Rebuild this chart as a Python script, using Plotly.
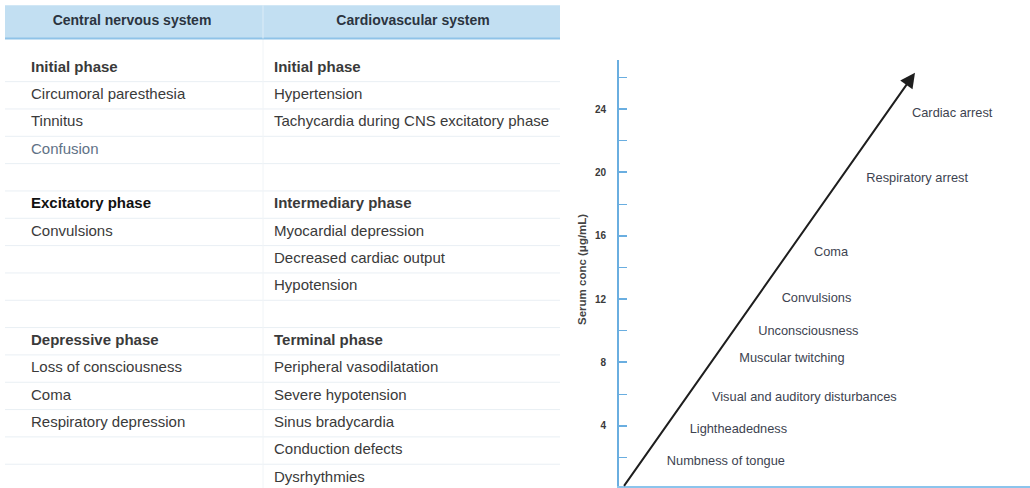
import plotly.graph_objects as go

# ---------------- Table data ----------------
cns_header = "Central nervous system"
cvs_header = "Cardiovascular system"

cns_items = ["Initial phase", "Circumoral paresthesia", "Tinnitus", "Confusion",
             "Excitatory phase", "Convulsions",
             "Depressive phase", "Loss of consciousness", "Coma", "Respiratory depression"]
cns_rows = [0, 1, 2, 3, 5, 6, 10, 11, 12, 13]

cvs_items = ["Initial phase", "Hypertension", "Tachycardia during CNS excitatory phase",
             "Intermediary phase", "Myocardial depression", "Decreased cardiac output", "Hypotension",
             "Terminal phase", "Peripheral vasodilatation", "Severe hypotension", "Sinus bradycardia",
             "Conduction defects", "Dysrhythmies"]
cvs_rows = [0, 1, 2, 5, 6, 7, 8, 10, 11, 12, 13, 14, 15]

phase_titles = ["Initial phase", "Excitatory phase", "Depressive phase",
                "Intermediary phase", "Terminal phase"]

# ---------------- Chart data ----------------
symptoms = ["Numbness of tongue", "Lightheadedness", "Visual and auditory disturbances",
            "Muscular twitching", "Unconsciousness", "Convulsions", "Coma",
            "Respiratory arrest", "Cardiac arrest"]
serum_conc = [1.7, 3.75, 5.75, 8.2, 9.9, 12.0, 14.9, 19.6, 23.7]
conc_ticks = [4, 8, 12, 16, 20, 24]
arrow_conc = [0.1, 26.3]
y_title = "Serum conc (μg/mL)"

# ---------------- Styling / layout constants ----------------
W, H = 1030, 488
TXT = "#3a3a3a"
BLUE = "#6aaee0"
FONT = "Liberation Sans, Arial, sans-serif"

arrow_x = [4, 296]          # horizontal extent of the arrow (px units of chart x axis)
label_gap = 26


def arrow_x_at(c):
    return arrow_x[0] + (arrow_x[1] - arrow_x[0]) * (c - arrow_conc[0]) / (arrow_conc[1] - arrow_conc[0])


def fmt(t):
    return f"<b>{t}</b>" if t in phase_titles else t


def col(t):
    if t == "Confusion":
        return "#5f7286"
    if t == "Excitatory phase":
        return "#111111"
    return TXT


fig = go.Figure()

# Table text (x2/y2: pixel columns, row index)
fig.add_trace(go.Scatter(
    x=[31] * len(cns_items), y=cns_rows, text=[fmt(t) for t in cns_items],
    mode="text", textposition="middle right",
    textfont=dict(family=FONT, size=15, color=[col(t) for t in cns_items]),
    xaxis="x2", yaxis="y2", hoverinfo="skip", showlegend=False))
fig.add_trace(go.Scatter(
    x=[274] * len(cvs_items), y=cvs_rows, text=[fmt(t) for t in cvs_items],
    mode="text", textposition="middle right",
    textfont=dict(family=FONT, size=15, color=[col(t) for t in cvs_items]),
    xaxis="x2", yaxis="y2", hoverinfo="skip", showlegend=False))
fig.add_trace(go.Scatter(
    x=[132, 413], y=[-1.69, -1.69], text=[f"<b>{cns_header}</b>", f"<b>{cvs_header}</b>"],
    mode="text", textposition="middle center",
    textfont=dict(family=FONT, size=14, color="#2b3440"),
    xaxis="x2", yaxis="y2", hoverinfo="skip", showlegend=False))

# Chart labels
fig.add_trace(go.Scatter(
    x=[arrow_x_at(c) + label_gap for c in serum_conc], y=serum_conc, text=symptoms,
    mode="text", textposition="middle right",
    textfont=dict(family=FONT, size=12.8, color="#3d4350"),
    xaxis="x", yaxis="y", hoverinfo="skip", showlegend=False))

shapes = []
# header band
shapes.append(dict(type="rect", xref="x2", yref="y2", x0=5, x1=560, y0=-2.3, y1=-1.08,
                   fillcolor="#c2dff2", line=dict(width=0), layer="below"))
shapes.append(dict(type="line", xref="x2", yref="y2", x0=5, x1=560, y0=-1.08, y1=-1.08,
                   line=dict(color="#8fc3e8", width=2)))
shapes.append(dict(type="line", xref="x2", yref="y2", x0=263, x1=263, y0=-2.3, y1=-1.08,
                   line=dict(color="#dcecf7", width=1)))
# faint row separators
for i in range(15):
    shapes.append(dict(type="line", xref="x2", yref="y2", x0=5, x1=560, y0=i + 0.5, y1=i + 0.5,
                       line=dict(color="#e9eff4", width=1), layer="below"))
shapes.append(dict(type="line", xref="x2", yref="y2", x0=263, x1=263, y0=-1.08, y1=15.4,
                   line=dict(color="#f0f4f7", width=1), layer="below"))

annotations = [
    dict(xref="x", yref="y", axref="x", ayref="y", x=arrow_x[1], y=arrow_conc[1],
         ax=arrow_x[0], ay=arrow_conc[0], text="", showarrow=True,
         arrowhead=2, arrowsize=1.5, arrowwidth=2, arrowcolor="#1e1e1e"),
    dict(xref="paper", yref="paper", x=582 / W, y=1 - 270 / H, text=f"<b>{y_title}</b>",
         textangle=-90, showarrow=False, font=dict(family=FONT, size=11.5, color="#444444")),
]

fig.update_layout(
    width=W, height=H, margin=dict(l=0, r=0, t=0, b=0),
    paper_bgcolor="white", plot_bgcolor="rgba(0,0,0,0)",
    shapes=shapes, annotations=annotations,
    xaxis=dict(domain=[619 / W, 1], range=[0, W - 619], showline=True, linecolor="#8cc4ec",
               linewidth=2, showticklabels=False, showgrid=False, zeroline=False,
               ticks="", fixedrange=True, anchor="y"),
    yaxis=dict(domain=[2 / H, 1 - 60 / H], range=[0.19, 27.1], showline=True, linecolor=BLUE,
               linewidth=2, showgrid=False, zeroline=False, tickmode="array", tickvals=conc_ticks,
               ticks="inside", ticklen=8, tickwidth=1.5, tickcolor=BLUE, ticklabelstandoff=9,
               tickfont=dict(family=FONT, size=10, color="#3a3a3a", weight="bold"),
               minor=dict(tickmode="linear", tick0=0, dtick=2, ticks="inside", ticklen=8,
                          tickwidth=1.2, tickcolor=BLUE),
               fixedrange=True, anchor="x"),
    xaxis2=dict(domain=[0, 1], range=[0, W], visible=False, fixedrange=True, anchor="y2"),
    yaxis2=dict(domain=[0, 1], range=[15.37, -2.488], visible=False, fixedrange=True, anchor="x2"),
)

fig.write_html("out.html", config={"displayModeBar": False},
               post_script="document.body.style.margin='0';")
